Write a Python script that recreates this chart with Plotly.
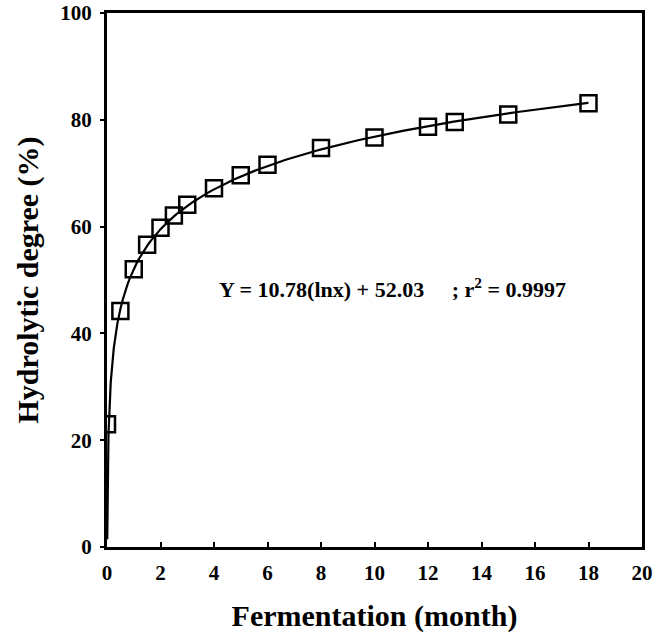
import numpy as np
import plotly.graph_objects as go

# fermentation time (month) and hydrolytic degree (%)
months = [0, 0.5, 1, 1.5, 2, 2.5, 3, 4, 5, 6, 8, 10, 12, 13, 15, 18]
degree = [23.0, 44.2, 52.0, 56.6, 59.8, 62.1, 64.1, 67.2, 69.6, 71.6, 74.7, 76.7, 78.7, 79.6, 81.0, 83.1]
x_ticks = [0, 2, 4, 6, 8, 10, 12, 14, 16, 18, 20]
y_ticks = [0, 20, 40, 60, 80, 100]

# log fit from the annotation
slope = 10.78
intercept = 52.03
fit_x = np.concatenate([np.linspace(0.005, 0.5, 120), np.linspace(0.5, 18, 200)])
fit_y = slope * np.log(fit_x) + intercept
keep = fit_y >= 0
fit_x, fit_y = fit_x[keep], fit_y[keep]

font = "Liberation Serif, Times New Roman, serif"

fig = go.Figure()
fig.add_trace(go.Scatter(x=fit_x, y=fit_y, mode="lines",
                         line=dict(color="black", width=2.2), hoverinfo="skip"))
fig.add_trace(go.Scatter(x=months, y=degree, mode="markers",
                         marker=dict(symbol="square-open", size=16, color="black",
                                     line=dict(width=2.5, color="black"))))

fig.add_annotation(x=4.1, y=48.5, xanchor="left", yanchor="middle", showarrow=False,
                   text="<b>Y = 10.78(lnx) + 52.03     ; r<sup>2</sup> = 0.9997</b>",
                   font=dict(family=font, size=22, color="black"))

fig.update_layout(
    width=668, height=637,
    margin=dict(l=107, r=26, t=13, b=90, autoexpand=False),
    plot_bgcolor="white", paper_bgcolor="white",
    showlegend=False,
    font=dict(family=font, color="black"),
)
tickfont = dict(family=font, size=21, color="black")
fig.update_xaxes(range=[0, 20], tickvals=x_ticks,
                 ticktext=[f"<b>{v}</b>" for v in x_ticks],
                 showgrid=False, zeroline=False, showline=True, mirror=True,
                 linecolor="black", linewidth=3, ticks="inside", ticklen=5,
                 tickwidth=2, tickcolor="black", tickfont=tickfont,
                 ticklabelstandoff=5, automargin=False,
                 title=dict(text="<b>Fermentation (month)</b>", standoff=21,
                            font=dict(family=font, size=30, color="black")))
fig.update_yaxes(range=[0, 100], tickvals=y_ticks,
                 ticktext=[f"<b>{v}</b>" for v in y_ticks],
                 showgrid=False, zeroline=False, showline=True, mirror=True,
                 linecolor="black", linewidth=3, ticks="outside", ticklen=4,
                 tickwidth=2, tickcolor="black", tickfont=tickfont,
                 ticklabelstandoff=4, automargin=False,
                 title=dict(text="<b>Hydrolytic degree (%)</b>", standoff=13,
                            font=dict(family=font, size=30, color="black")))

# drop the default 8px body margin so the figure fills the window
fig.write_html("out.html", config={"displayModeBar": False},
               post_script="document.body.style.margin='0';")
